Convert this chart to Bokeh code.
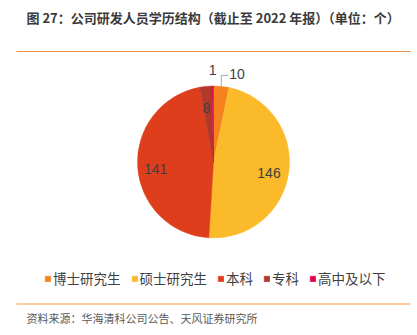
import math
from bokeh.plotting import figure
from bokeh.models import ColumnDataSource, Range1d, Legend, LegendItem
from bokeh.core.properties import value
from bokeh.embed import file_html
from bokeh.resources import INLINE

categories = ["博士研究生", "硕士研究生", "本科", "专科", "高中及以下"]
counts = [10, 146, 141, 8, 1]
colors = ["#F5821F", "#FBBA2A", "#DE3E1C", "#B0392C", "#E5004C"]
label_inside = [False, True, True, True, False]
title_text = "图 27：公司研发人员学历结构（截止至 2022 年报）（单位：个）"
source_text = "资料来源：华海清科公司公告、天风证券研究所"

W, H = 417, 335
CX, CY, R = 213, H - 161.5, 76
total = sum(counts)

starts, ends, mids = [], [], []
cum = 0
for c in counts:
    a0 = math.pi / 2 - 2 * math.pi * cum / total
    cum += c
    a1 = math.pi / 2 - 2 * math.pi * cum / total
    starts.append(a0)
    ends.append(a1)
    mids.append((a0 + a1) / 2)

src = ColumnDataSource(dict(cat=categories, val=counts, color=colors,
                            start=starts, end=ends))

p = figure(width=W, height=H, output_backend="svg", toolbar_location=None,
           x_range=Range1d(0, W), y_range=Range1d(0, H), min_border=0)
p.axis.visible = False
p.grid.visible = False
p.outline_line_color = None
p.background_fill_color = "white"

wr = p.wedge(x=CX, y=CY, radius=R, radius_units="screen", start_angle="start",
             end_angle="end", direction="clock", fill_color="color",
             line_color="color", line_width=0.5, source=src)

font_num = value("Liberation Sans")

# inside labels
ix, iy, it = [], [], []
for v, m, inside in zip(counts, mids, label_inside):
    if inside:
        r = 0.75 * R
        ix.append(CX + r * math.cos(m) - 1)
        iy.append(CY + r * math.sin(m) - 3)
        it.append(str(v))
p.text(x=ix, y=iy, text=it, text_align="center", text_baseline="middle",
       text_font=font_num, text_font_size="14px", text_color="#404040")

# outside label with leader for 博士研究生
m10 = mids[0]
ex, ey = CX + R * math.cos(m10), CY + R * math.sin(m10)
p.line(x=[ex, ex, ex + 7], y=[ey, ey + 11, ey + 11], line_color="#A6A6A6", line_width=1)
p.text(x=[ex + 8], y=[ey + 12], text=[str(counts[0])], text_align="left",
       text_baseline="middle", text_font=font_num,
       text_font_size="14px", text_color="#404040")
# outside label for 高中及以下
m1 = mids[4]
p.text(x=[CX + R * math.cos(m1)], y=[CY + R * math.sin(m1) + 16], text=[str(counts[4])],
       text_align="center", text_baseline="middle", text_font=font_num,
       text_font_size="14px", text_color="#404040")

# title, rules, source
p.text(x=[26], y=[H - 17], text=[title_text], text_align="left", text_baseline="middle",
       text_font=value("Noto Sans CJK SC"), text_font_size="13px", text_font_style="bold",
       text_color="#3a3a3a")
p.line(x=[16, 410], y=[H - 51, H - 51], line_color="#E8914A", line_width=1)
p.line(x=[16, 410], y=[H - 303.5, H - 303.5], line_color="#F9CBA0", line_width=2)
p.text(x=[26], y=[H - 317], text=[source_text], text_align="left", text_baseline="middle",
       text_font=value("Noto Sans CJK SC"), text_font_size="11px", text_color="#595959")

items = [LegendItem(label=c, renderers=[wr], index=i) for i, c in enumerate(categories)]
legend = Legend(items=items, orientation="horizontal", location=(44, 47),
                glyph_width=7, glyph_height=7, label_standoff=2, spacing=10,
                padding=0, margin=0, border_line_color=None, background_fill_alpha=0,
                label_text_font="Noto Sans CJK SC", label_text_font_size="13.5px",
                label_text_color="#404040", label_height=16)
p.add_layout(legend, "center")

open("out.html", "w").write(file_html(p, INLINE))
